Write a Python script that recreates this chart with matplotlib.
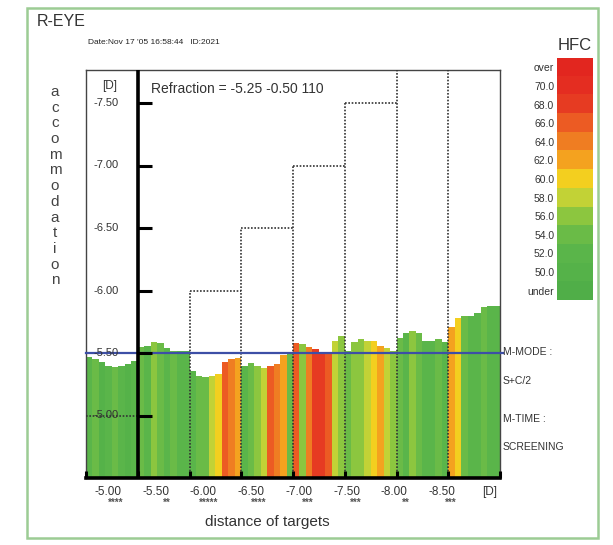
import numpy as np
import matplotlib.pyplot as plt
from matplotlib.colors import ListedColormap, BoundaryNorm
from matplotlib.patches import Rectangle

plt.rcParams['font.family'] = ['Liberation Sans', 'DejaVu Sans']

# ------------------------------------------------------------
# data
# ------------------------------------------------------------
target_labels = ['-5.00', '-5.50', '-6.00', '-6.50', '-7.00', '-7.50', '-8.00', '-8.50']
targets = [-5.00, -5.50, -6.00, -6.50, -7.00, -7.50, -8.00, -8.50]
stars = ['****', '**', '*****', '****', '***', '***', '**', '***']

# accommodation response [D], 8 samples per target
accommodation = [
    [-5.47, -5.45, -5.43, -5.40, -5.39, -5.40, -5.41, -5.44],
    [-5.55, -5.56, -5.59, -5.58, -5.54, -5.52, -5.52, -5.52],
    [-5.36, -5.32, -5.31, -5.32, -5.33, -5.43, -5.45, -5.46],
    [-5.40, -5.42, -5.40, -5.38, -5.40, -5.41, -5.48, -5.51],
    [-5.58, -5.57, -5.55, -5.53, -5.51, -5.50, -5.60, -5.64],
    [-5.52, -5.59, -5.61, -5.60, -5.60, -5.56, -5.54, -5.52],
    [-5.62, -5.66, -5.68, -5.66, -5.60, -5.60, -5.61, -5.59],
    [-5.71, -5.78, -5.80, -5.80, -5.82, -5.87, -5.88, -5.88],
]
# HFC value of each sample
hfc = [
    [53, 55, 51, 53, 55, 53, 51, 53],
    [55, 53, 57, 55, 53, 55, 53, 53],
    [53, 55, 55, 59, 61, 67, 65, 63],
    [53, 55, 57, 59, 67, 65, 63, 55],
    [67, 57, 65, 69, 69, 67, 59, 57],
    [55, 57, 57, 59, 61, 63, 59, 57],
    [55, 53, 57, 55, 53, 53, 55, 53],
    [63, 61, 55, 53, 53, 55, 53, 53],
]
refraction = -5.50

hfc_labels = ['under', '50.0', '52.0', '54.0', '56.0', '58.0', '60.0',
              '62.0', '64.0', '66.0', '68.0', '70.0', 'over']
hfc_bounds = [0, 50, 52, 54, 56, 58, 60, 62, 64, 66, 68, 70, 72, 100]
hfc_colors = ['#50ae48', '#55b249', '#5ab54a', '#6abb47', '#8cc63f', '#c2d236',
              '#f3cf1f', '#f4a21f', '#ef7d22', '#ec5b23', '#e63b22', '#e42d21', '#e2261f']

cmap = ListedColormap(hfc_colors)
norm = BoundaryNorm(hfc_bounds, cmap.N)

W, H = 613, 545
def fx(px):
    return px / W
def fy(py):
    return 1 - py / H

fig = plt.figure(figsize=(W / 100, H / 100), dpi=100)
fig.patches.append(Rectangle((fx(27), fy(538)), fx(571), 530 / H, transform=fig.transFigure,
                             fill=False, ec='#9ccc94', lw=1.8))

ax = fig.add_axes([fx(86), fy(478), fx(414), 408 / H])
y0, y1 = -4.5, -7.764
ax.set_xlim(0, 8)
ax.set_ylim(y0, y1)

# bars
n = len(targets)
for i in range(n):
    vals = np.array(accommodation[i])
    m = len(vals)
    xs = i + (np.arange(m) + 0.5) / m
    ax.bar(xs, vals - y0, bottom=y0, width=1 / m, color=cmap(norm(hfc[i])), lw=0, zorder=2)

# target steps (dotted)
edges = np.arange(n + 1)
ax.hlines(targets, edges[:-1], edges[1:], colors='#333333', linestyles=(0, (1, 1)), lw=1.2, zorder=4)
tops = [min(targets[i - 1], targets[i]) for i in range(1, n)]
ax.vlines(edges[1:-1], y0, tops, colors='#333333', linestyles=(0, (1, 1)), lw=1.2, zorder=4)

# refraction line
ax.plot([0, 8.05], [refraction, refraction], color='#3d4fa6', lw=1.6, zorder=5, clip_on=False)

# y axis on the first boundary
ax.axvline(1, color='black', lw=2.6, zorder=6)
yt = [-7.5, -7.0, -6.5, -6.0, -5.5, -5.0]
ax.hlines(yt, 1, 1.27, color='black', lw=2.2, zorder=6)
for v in yt:
    ax.text(0.14, v, f'{v:.2f}', ha='left', va='center', fontsize=8, color='#333333', zorder=7)
ax.text(0.45, -7.64, '[D]', ha='center', va='center', fontsize=8.5, color='#333333')

# bottom ticks
ax.vlines(edges, y0, y0 - 0.055, color='black', lw=2.2, zorder=6, clip_on=False)
ax.set_xticks([])
ax.set_yticks([])
for s in ['left', 'top', 'right']:
    ax.spines[s].set_color('#444444')
    ax.spines[s].set_linewidth(1)
ax.spines['bottom'].set_linewidth(2.6)
ax.spines['bottom'].set_zorder(6)

# x labels
for i, (lab, st) in enumerate(zip(target_labels, stars)):
    cx = 108 + 47.7 * i
    fig.text(fx(cx), fy(492), lab, ha='center', va='center', fontsize=8.5, color='#333333')
    fig.text(fx(cx + 15), fy(503), st, ha='right', va='center', fontsize=7,
             fontweight='bold', color='#555555')
fig.text(fx(490), fy(492), '[D]', ha='center', va='center', fontsize=8.5, color='#333333')
fig.text(fx(267), fy(522), 'distance of targets', ha='center', va='center', fontsize=11, color='#333333')

# headers
fig.text(fx(37), fy(21), 'R-EYE', ha='left', va='center', fontsize=11.5, color='#333333')
fig.text(fx(88), fy(42), "Date:Nov 17 '05 16:58:44   ID:2021", ha='left', va='center',
         fontsize=6, color='#222222')
fig.text(fx(151), fy(89), 'Refraction = -5.25 -0.50 110', ha='left', va='center',
         fontsize=10, color='#333333')

# vertical axis title, one letter per line
for k, ch in enumerate('accommodation'):
    fig.text(fx(55), fy(92 + 15.7 * k), ch, ha='center', va='center', fontsize=11, color='#444444')

# right side notes
for txt, py in [('M-MODE :', 352), ('S+C/2', 381), ('M-TIME :', 419), ('SCREENING', 447)]:
    fig.text(fx(503), fy(py), txt, ha='left', va='center', fontsize=7.5, color='#333333')

# HFC scale
cax = fig.add_axes([fx(557), fy(300), fx(36), 242 / H])
idx = np.arange(len(hfc_colors))[::-1].reshape(-1, 1)
cax.imshow(idx, cmap=cmap, norm=BoundaryNorm(np.arange(-0.5, len(hfc_colors)), cmap.N),
           aspect='auto', interpolation='nearest')
cax.set_xticks([])
cax.set_yticks(range(len(hfc_labels)))
cax.set_yticklabels(hfc_labels[::-1], fontsize=7.5, color='#333333')
cax.tick_params(axis='y', length=0, pad=2)
for s in cax.spines.values():
    s.set_visible(False)
fig.text(fx(575), fy(46), 'HFC', ha='center', va='center', fontsize=12, color='#333333')

fig.savefig('out.png', dpi=100)
